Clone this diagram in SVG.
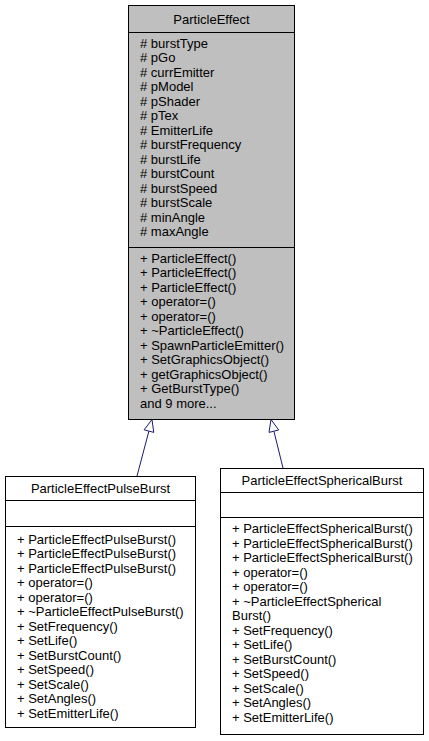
<svg xmlns="http://www.w3.org/2000/svg" width="429" height="741" viewBox="0 0 429 741">
<style>
text{font-family:"Liberation Sans",Arial,sans-serif;font-size:13px;fill:#000}
.t{text-anchor:middle}
.box{stroke:#000;stroke-width:1}
.div{stroke:#000;stroke-width:1}
.edge{stroke:#191970;stroke-width:1;fill:none}
.head{stroke:#191970;stroke-width:1;fill:#fff}
</style>
<rect width="429" height="741" fill="#fff"/>
<g id="connectors">
<path class="edge" d="M137,476 L148.9,431.1"/>
<polygon class="head" points="152,419.5 153.75,432.4 144.1,429.8"/>
<path class="edge" d="M283,468 L273.9,431.2"/>
<polygon class="head" points="271,419.5 278.7,430 269,432.4"/>
</g>
<g id="ParticleEffect">
<rect class="box" x="128.5" y="5.5" width="166" height="414" fill="#bfbfbf"/>
<line class="div" x1="128.5" y1="32.5" x2="294.5" y2="32.5"/>
<line class="div" x1="128.5" y1="247.5" x2="294.5" y2="247.5"/>
<text class="t" x="211.5" y="23.5">ParticleEffect</text>
<text x="140" y="47.5"># burstType</text>
<text x="140" y="62"># pGo</text>
<text x="140" y="76.5"># currEmitter</text>
<text x="140" y="91"># pModel</text>
<text x="140" y="105.5"># pShader</text>
<text x="140" y="120"># pTex</text>
<text x="140" y="134.5"># EmitterLife</text>
<text x="140" y="149"># burstFrequency</text>
<text x="140" y="163.5"># burstLife</text>
<text x="140" y="178"># burstCount</text>
<text x="140" y="192.5"># burstSpeed</text>
<text x="140" y="207"># burstScale</text>
<text x="140" y="221.5"># minAngle</text>
<text x="140" y="236"># maxAngle</text>
<text x="140" y="262.5">+ ParticleEffect()</text>
<text x="140" y="277">+ ParticleEffect()</text>
<text x="140" y="291.5">+ ParticleEffect()</text>
<text x="140" y="306">+ operator=()</text>
<text x="140" y="320.5">+ operator=()</text>
<text x="140" y="335">+ ~ParticleEffect()</text>
<text x="140" y="349.5">+ SpawnParticleEmitter()</text>
<text x="140" y="364">+ SetGraphicsObject()</text>
<text x="140" y="378.5">+ getGraphicsObject()</text>
<text x="140" y="393">+ GetBurstType()</text>
<text x="140" y="407.5">and 9 more...</text>
</g>
<g id="ParticleEffectPulseBurst">
<rect class="box" x="5.5" y="476.5" width="190" height="251" fill="#fff"/>
<line class="div" x1="5.5" y1="500.5" x2="195.5" y2="500.5"/>
<line class="div" x1="5.5" y1="526.5" x2="195.5" y2="526.5"/>
<text class="t" x="100.5" y="492.5">ParticleEffectPulseBurst</text>
<text x="17" y="543.5">+ ParticleEffectPulseBurst()</text>
<text x="17" y="558">+ ParticleEffectPulseBurst()</text>
<text x="17" y="572.5">+ ParticleEffectPulseBurst()</text>
<text x="17" y="587">+ operator=()</text>
<text x="17" y="601.5">+ operator=()</text>
<text x="17" y="616">+ ~ParticleEffectPulseBurst()</text>
<text x="17" y="630.5">+ SetFrequency()</text>
<text x="17" y="645">+ SetLife()</text>
<text x="17" y="659.5">+ SetBurstCount()</text>
<text x="17" y="674">+ SetSpeed()</text>
<text x="17" y="688.5">+ SetScale()</text>
<text x="17" y="703">+ SetAngles()</text>
<text x="17" y="717.5">+ SetEmitterLife()</text>
</g>
<g id="ParticleEffectSphericalBurst">
<rect class="box" x="220.5" y="468.5" width="203" height="266" fill="#fff"/>
<line class="div" x1="220.5" y1="492.5" x2="423.5" y2="492.5"/>
<line class="div" x1="220.5" y1="517.5" x2="423.5" y2="517.5"/>
<text class="t" x="322" y="484.5">ParticleEffectSphericalBurst</text>
<text x="232" y="533">+ ParticleEffectSphericalBurst()</text>
<text x="232" y="547.5">+ ParticleEffectSphericalBurst()</text>
<text x="232" y="562">+ ParticleEffectSphericalBurst()</text>
<text x="232" y="576.5">+ operator=()</text>
<text x="232" y="591">+ operator=()</text>
<text x="232" y="605.5">+ ~ParticleEffectSpherical</text>
<text x="232" y="620">Burst()</text>
<text x="232" y="634.5">+ SetFrequency()</text>
<text x="232" y="649">+ SetLife()</text>
<text x="232" y="663.5">+ SetBurstCount()</text>
<text x="232" y="678">+ SetSpeed()</text>
<text x="232" y="692.5">+ SetScale()</text>
<text x="232" y="707">+ SetAngles()</text>
<text x="232" y="721.5">+ SetEmitterLife()</text>
</g>
</svg>
